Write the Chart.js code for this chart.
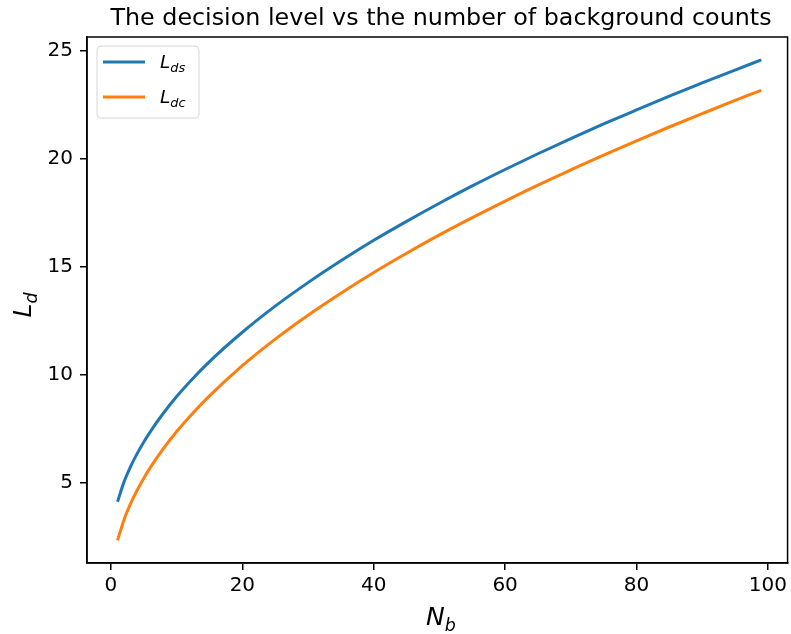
<!DOCTYPE html>
<html>
<head>
<meta charset="utf-8">
<script src="https://cdn.jsdelivr.net/npm/chart.js@4"></script>
<style>
  html, body { margin: 0; padding: 0; background: #fff; }
  #wrap { width: 791px; height: 634px; }
</style>
</head>
<body>
<div id="wrap"><canvas id="chart" width="791" height="634"></canvas></div>
<script>
// values
const nb = [1, 2, 3, 4, 5, 6, 8, 10, 12, 15, 20, 25, 30, 35, 40, 45, 50, 55, 60, 65, 70, 75, 80, 85, 90, 95, 99];
const lds = [4.12, 5.05, 5.76, 6.36, 6.89, 7.37, 8.23, 8.99, 9.68, 10.61, 11.97, 13.18, 14.27, 15.28, 16.23, 17.11, 17.95, 18.75, 19.51, 20.24, 20.94, 21.62, 22.27, 22.91, 23.52, 24.12, 24.59];
const ldc = [2.33, 3.30, 4.04, 4.66, 5.21, 5.71, 6.59, 7.37, 8.07, 9.02, 10.42, 11.65, 12.76, 13.78, 14.74, 15.63, 16.48, 17.28, 18.05, 18.79, 19.49, 20.18, 20.84, 21.48, 22.10, 22.71, 23.18];
const xTicks = [0, 20, 40, 60, 80, 100];
const yTicks = [5, 10, 15, 20, 25];

const COLORS = { ds: "#1f77b4", dc: "#ff7f0e", text: "#000" };
const FONT = "'DejaVu Sans', sans-serif";

const toPoints = (ys) => nb.map((x, i) => ({ x, y: ys[i] }));

// text with a math-style subscript: italic main letter + smaller italic sub
function mathText(ctx, main, sub, x, y, size, align) {
  ctx.font = `italic ${size}px ${FONT}`;
  const w1 = ctx.measureText(main).width;
  ctx.font = `italic ${size * 0.7}px ${FONT}`;
  const w2 = ctx.measureText(sub).width;
  let sx = x;
  if (align === "center") sx = x - (w1 + w2) / 2;
  ctx.textAlign = "left";
  ctx.textBaseline = "alphabetic";
  ctx.font = `italic ${size}px ${FONT}`;
  ctx.fillText(main, sx, y);
  ctx.font = `italic ${size * 0.7}px ${FONT}`;
  ctx.fillText(sub, sx + w1, y + size * 0.22);
}

const decor = {
  id: "decor",
  afterDraw(chart) {
    const { ctx, chartArea: a } = chart;
    ctx.save();
    // frame (all four spines)
    ctx.strokeStyle = "#000";
    ctx.lineWidth = 1.5;
    ctx.strokeRect(a.left, a.top, a.right - a.left, a.bottom - a.top);

    // title
    ctx.fillStyle = COLORS.text;
    ctx.font = `23.8px ${FONT}`;
    ctx.textAlign = "center";
    ctx.textBaseline = "alphabetic";
    ctx.fillText("The decision level vs the number of background counts", 441, 25);

    // axis titles
    mathText(ctx, "N", "b", 441, 625, 25, "center");
    ctx.save();
    ctx.translate(31, 305);
    ctx.rotate(-Math.PI / 2);
    mathText(ctx, "L", "d", 0, 0, 25, "center");
    ctx.restore();

    // legend
    const bx = 97, by = 46, bw = 102, bh = 72, r = 4;
    ctx.beginPath();
    ctx.moveTo(bx + r, by);
    ctx.arcTo(bx + bw, by, bx + bw, by + bh, r);
    ctx.arcTo(bx + bw, by + bh, bx, by + bh, r);
    ctx.arcTo(bx, by + bh, bx, by, r);
    ctx.arcTo(bx, by, bx + bw, by, r);
    ctx.closePath();
    ctx.fillStyle = "rgba(255,255,255,0.8)";
    ctx.fill();
    ctx.strokeStyle = "#d6d6d6";
    ctx.lineWidth = 1;
    ctx.stroke();

    const items = [["ds", COLORS.ds, 62], ["dc", COLORS.dc, 97]];
    items.forEach(([sub, color, y]) => {
      ctx.strokeStyle = color;
      ctx.lineWidth = 3;
      ctx.beginPath();
      ctx.moveTo(103, y);
      ctx.lineTo(145, y);
      ctx.stroke();
      ctx.fillStyle = COLORS.text;
      mathText(ctx, "L", sub, 160, y + 6, 18.5, "left");
    });
    ctx.restore();
  },
};

new Chart(document.getElementById("chart"), {
  type: "line",
  data: {
    datasets: [
      { label: "Lds", data: toPoints(lds), borderColor: COLORS.ds, borderWidth: 3, pointRadius: 0, cubicInterpolationMode: "monotone", fill: false },
      { label: "Ldc", data: toPoints(ldc), borderColor: COLORS.dc, borderWidth: 3, pointRadius: 0, cubicInterpolationMode: "monotone", fill: false },
    ],
  },
  options: {
    responsive: false,
    animation: false,
    layout: { padding: { top: 37, right: 2, left: 0, bottom: 0 } },
    plugins: { legend: { display: false }, tooltip: { enabled: false }, title: { display: false } },
    scales: {
      x: {
        type: "linear",
        min: -3.65,
        max: 103.0,
        afterBuildTicks: (axis) => { axis.ticks = xTicks.map((v) => ({ value: v })); },
        afterFit: (axis) => { axis.height = 71; },
        ticks: { color: COLORS.text, font: { family: FONT, size: 20 }, padding: 4, maxRotation: 0 },
        grid: { display: true, drawOnChartArea: false, drawTicks: true, tickLength: 7, color: "#000", lineWidth: 1.5 },
        border: { display: true, color: "#000", width: 1.5 },
      },
      y: {
        min: 1.28,
        max: 25.65,
        afterBuildTicks: (axis) => { axis.ticks = yTicks.map((v) => ({ value: v })); },
        afterFit: (axis) => { axis.width = 87; },
        ticks: { color: COLORS.text, font: { family: FONT, size: 20 }, padding: 7 },
        grid: { display: true, drawOnChartArea: false, drawTicks: true, tickLength: 7, color: "#000", lineWidth: 1.5 },
        border: { display: true, color: "#000", width: 1.5 },
      },
    },
  },
  plugins: [decor],
});
</script>
</body>
</html>
